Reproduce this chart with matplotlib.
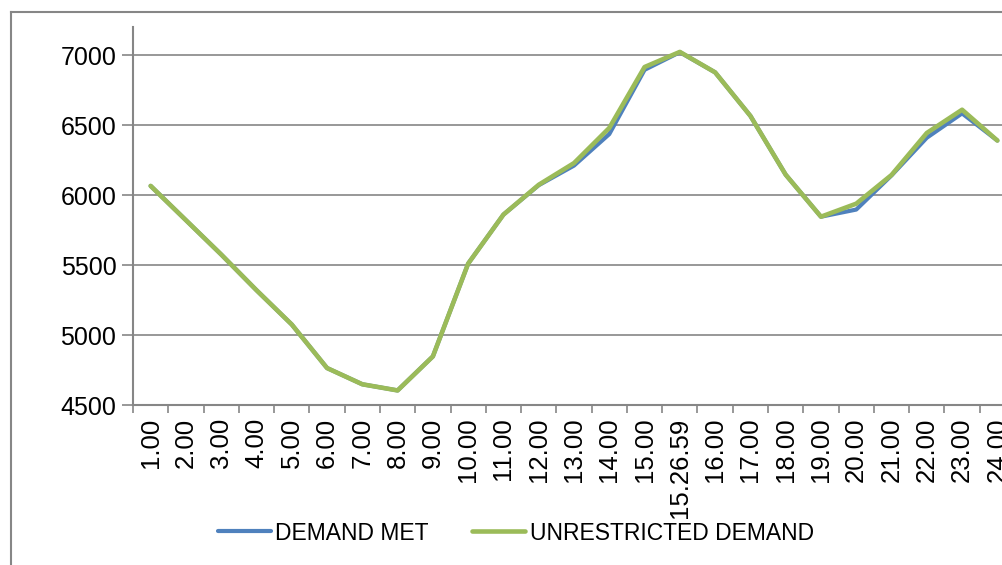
import matplotlib
matplotlib.use("Agg")
from matplotlib import pyplot as plt
from matplotlib.lines import Line2D

plt.rcParams["font.family"] = ["Liberation Sans Narrow", "Liberation Sans", "DejaVu Sans"]

hours = ["1.00", "2.00", "3.00", "4.00", "5.00", "6.00", "7.00", "8.00", "9.00",
         "10.00", "11.00", "12.00", "13.00", "14.00", "15.00", "15.26.59", "16.00",
         "17.00", "18.00", "19.00", "20.00", "21.00", "22.00", "23.00", "24.00"]
demand_met = [6065, 5820, 5575, 5320, 5075, 4764, 4648, 4604, 4847, 5510, 5860,
              6070, 6210, 6435, 6894, 7020, 6876, 6565, 6145, 5845, 5896, 6140,
              6409, 6583, 6389]
unrestricted = [6065, 5820, 5575, 5320, 5075, 4764, 4648, 4604, 4847, 5510, 5860,
                6073, 6228, 6479, 6914, 7022, 6876, 6565, 6145, 5845, 5938, 6143,
                6443, 6609, 6389]
yticks = [4500, 5000, 5500, 6000, 6500, 7000]

grey = "#868686"
fig = plt.figure(figsize=(10.02, 5.65), dpi=100)
ax = fig.add_axes([133 / 1002, 1 - 405 / 565, 882 / 1002, (405 - 27) / 565])

x = list(range(len(hours)))
ax.plot(x, demand_met, color="#4F81BD", linewidth=3.0, solid_joinstyle="round",
        solid_capstyle="round", label="DEMAND MET")
ax.plot(x, unrestricted, color="#9BBB59", linewidth=3.3, solid_joinstyle="round",
        solid_capstyle="round", label="UNRESTRICTED DEMAND")

ax.set_xlim(-0.5, len(hours) - 0.5)
ax.set_ylim(4500, 7200)
ax.set_yticks(yticks)
ax.set_yticklabels([str(v) for v in yticks], fontsize=18)
ax.set_xticks(x)
ax.set_xticklabels(hours, rotation=90, fontsize=18.5)
ax.set_xticks([i - 0.5 for i in range(len(hours) + 1)], minor=True)
ax.tick_params(axis="x", which="major", length=0, pad=9)
ax.tick_params(axis="x", which="minor", length=6, color=grey, width=1.2)
ax.tick_params(axis="y", length=8, color=grey, width=1.2, pad=4)

ax.grid(axis="y", color=grey, linewidth=1.2)
ax.set_axisbelow(True)
for side in ["top", "right"]:
    ax.spines[side].set_visible(False)
for side in ["left", "bottom"]:
    ax.spines[side].set_color(grey)
    ax.spines[side].set_linewidth(1.5)

fig.legend(loc="center", bbox_to_anchor=(0.515, 1 - 533 / 565), ncol=2,
           frameon=False, fontsize=16.5, handlelength=2.3, handletextpad=0.2,
           columnspacing=1.9)

# chart area border (only left and top visible in the crop)
fig.add_artist(Line2D([11 / 1002, 11 / 1002], [0, 1 - 12 / 565],
                      transform=fig.transFigure, color=grey, linewidth=1.5))
fig.add_artist(Line2D([11 / 1002, 1], [1 - 12 / 565, 1 - 12 / 565],
                      transform=fig.transFigure, color=grey, linewidth=1.5))

fig.savefig("out.png", dpi=100)
